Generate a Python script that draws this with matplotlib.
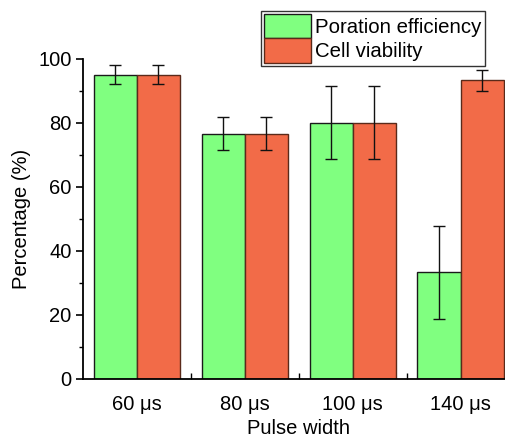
import matplotlib
matplotlib.use("Agg")
import matplotlib.pyplot as plt
import numpy as np
from matplotlib.ticker import MultipleLocator, FixedLocator
from matplotlib.patches import Patch

plt.rcParams['font.family'] = ['Liberation Sans', 'DejaVu Sans']

categories = ["60 μs", "80 μs", "100 μs", "140 μs"]
poration = [95.0, 76.6, 80.0, 33.2]
poration_err = [3.0, 5.1, 11.5, 14.5]
viability = [95.0, 76.6, 80.0, 93.2]
viability_err = [3.0, 5.1, 11.5, 3.3]

green = "#80FF80"
red = "#F26B48"

fig = plt.figure(figsize=(5.06, 4.38), dpi=100)
W, H = 506, 438
x0, x1 = 82.7, 514.7
y0, y1 = 378.7, 58.7
ax = fig.add_axes([x0 / W, 1 - y0 / H, (x1 - x0) / W, (y0 - y1) / H])

x = np.arange(len(categories))
bw = 0.4
ek = dict(ecolor="#111111", elinewidth=1.0, capsize=4, capthick=1.0)
ax.bar(x - bw / 2, poration, bw, color=green, edgecolor="#1a1a1a", linewidth=1.0,
       yerr=poration_err, error_kw=ek, zorder=2)
ax.bar(x + bw / 2, viability, bw, color=red, edgecolor="#5a2a1a", linewidth=1.0,
       yerr=viability_err, error_kw=ek, zorder=2)

ax.set_xlim(-0.5, 3.5)
ax.set_ylim(0, 100)
ax.spines['top'].set_visible(False)
ax.spines['right'].set_visible(False)
ax.spines['left'].set_linewidth(1.3)
ax.spines['bottom'].set_linewidth(1.3)
ax.set_xticks(x)
ax.set_xticklabels(categories)
ax.xaxis.set_minor_locator(FixedLocator([0.5, 1.5, 2.5]))
ax.tick_params(axis='x', which='major', length=0, labelsize=14.5, pad=12)
ax.tick_params(axis='x', which='minor', direction='in', length=4, width=1)
ax.yaxis.set_major_locator(MultipleLocator(20))
ax.yaxis.set_minor_locator(MultipleLocator(10))
ax.tick_params(axis='y', which='major', direction='out', length=5, width=1.2, labelsize=14.5, pad=3)
ax.tick_params(axis='y', which='minor', direction='out', length=3, width=1)
ax.set_xlabel("Pulse width", fontsize=14.5, labelpad=3)
ax.set_ylabel("Percentage (%)", fontsize=14.5, labelpad=5)

handles = [Patch(facecolor=green, edgecolor="#1a1a1a", label="Poration efficiency"),
           Patch(facecolor=red, edgecolor="#5a2a1a", label="Cell viability")]
leg = fig.legend(handles=handles, loc="upper left",
                 bbox_to_anchor=(261 / W, 1 - 11 / H), fontsize=14.7,
                 frameon=True, fancybox=False, edgecolor="black",
                 borderpad=0.15, handlelength=2.3, handleheight=1.45,
                 handletextpad=0.2, labelspacing=0.0, borderaxespad=0)
leg.get_frame().set_linewidth(1.0)

fig.savefig("out.png", dpi=100)
